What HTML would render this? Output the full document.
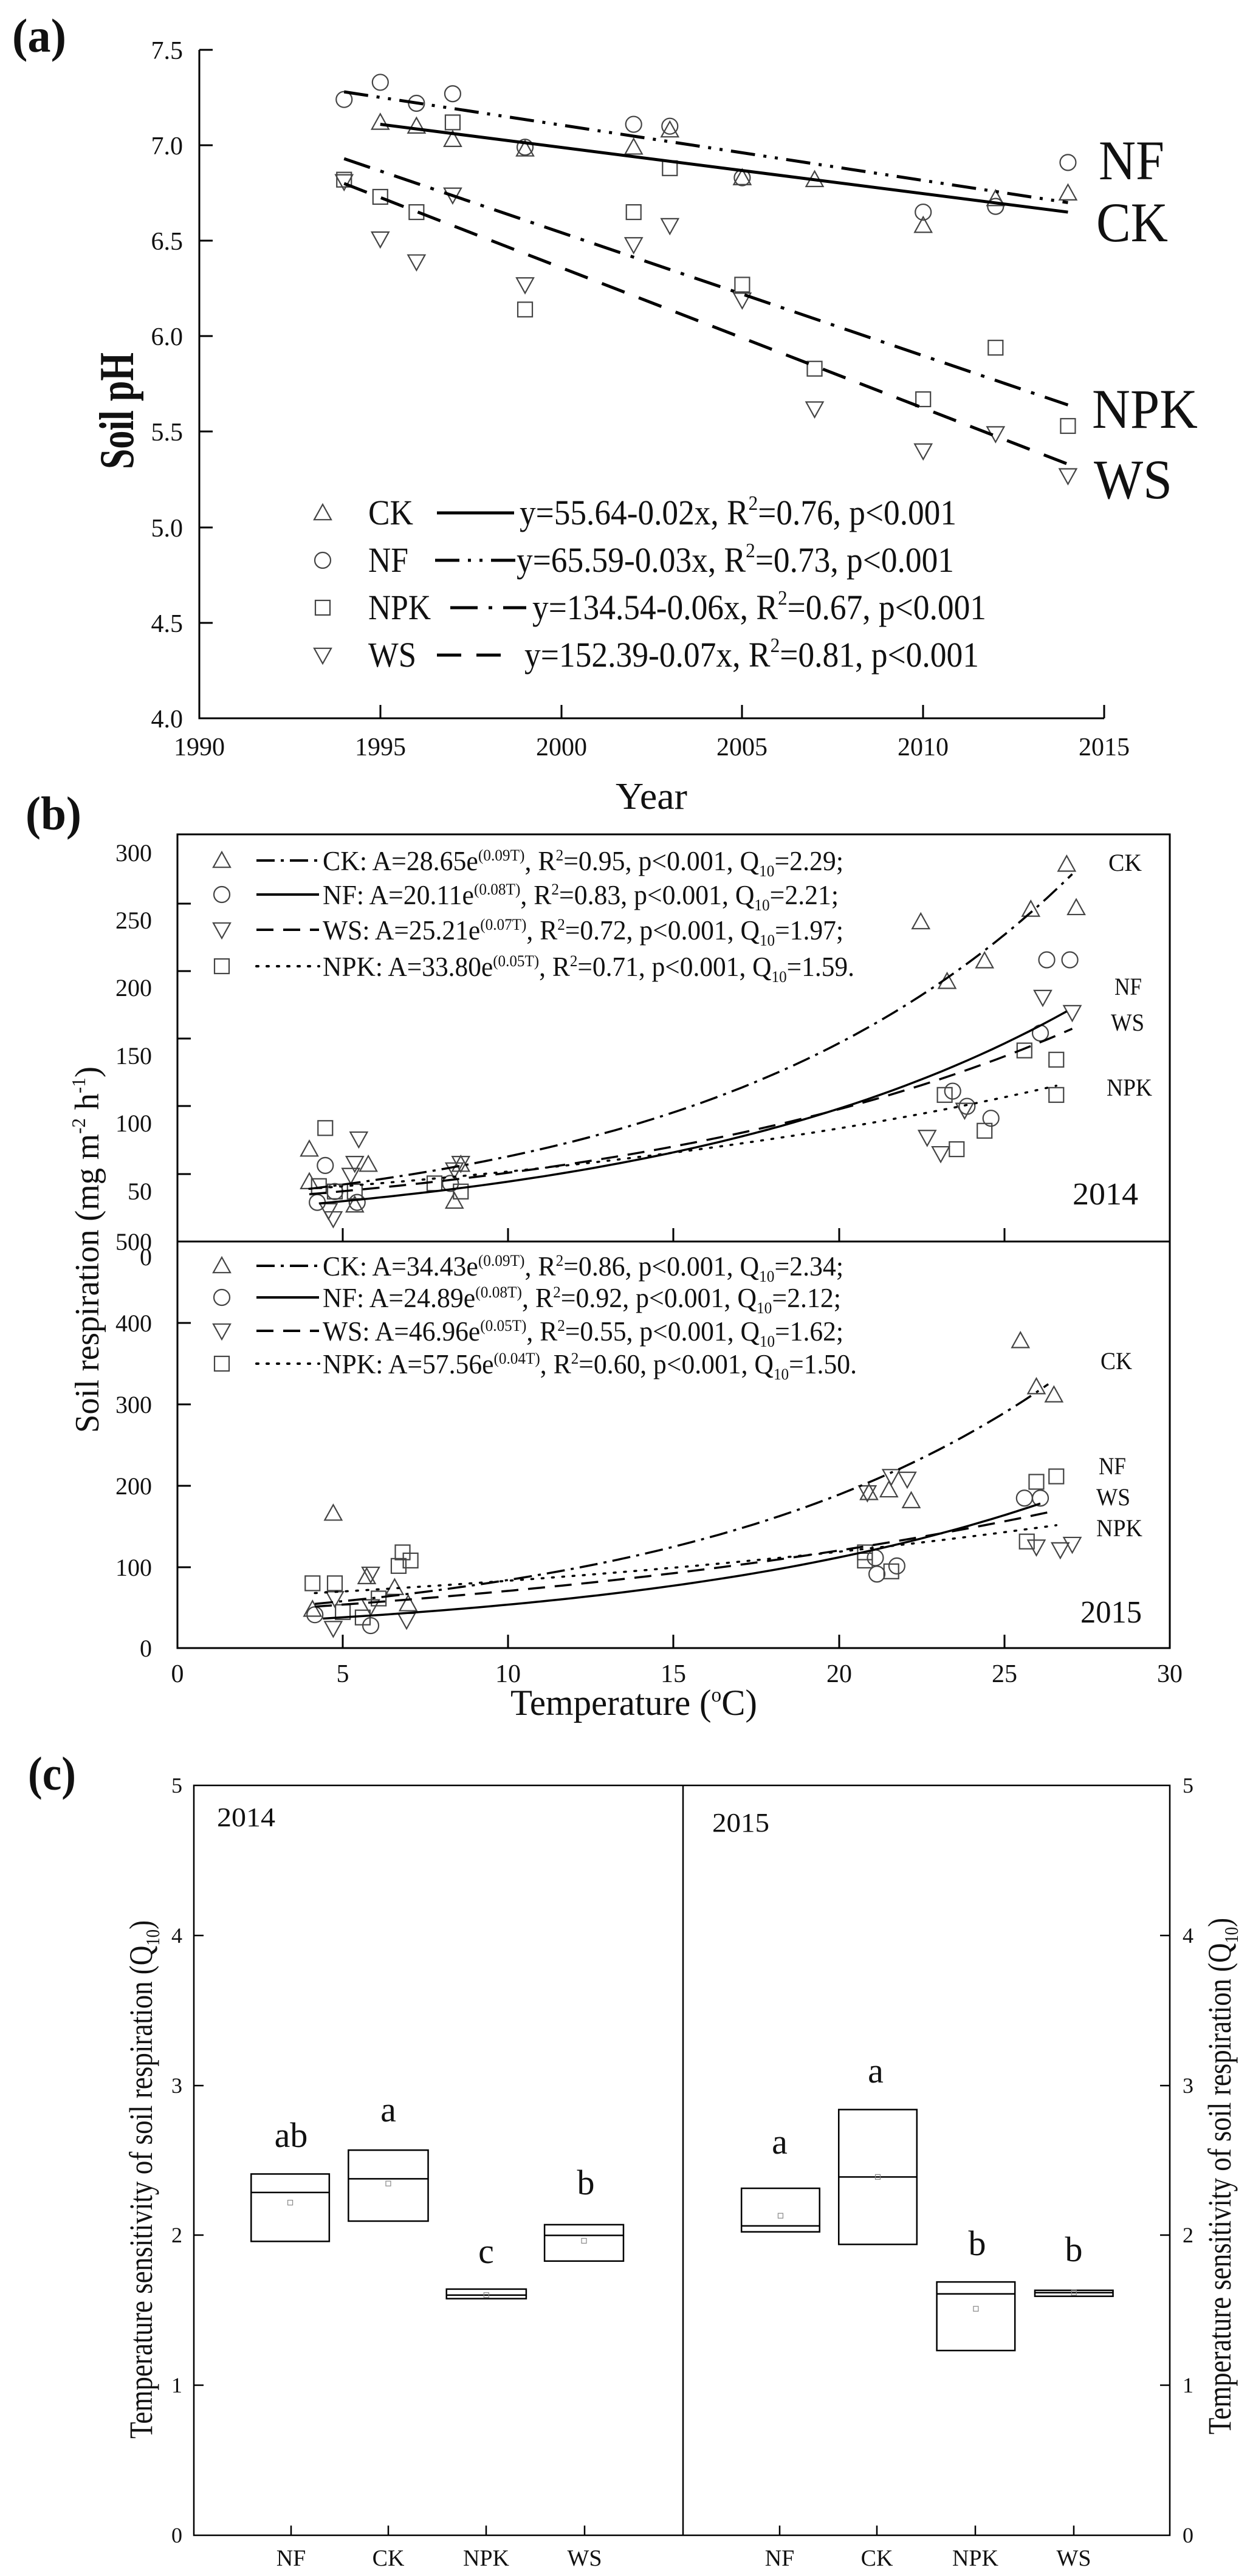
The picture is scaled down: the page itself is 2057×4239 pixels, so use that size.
<!DOCTYPE html>
<html><head><meta charset="utf-8"><style>
html,body{margin:0;padding:0;background:#fff}
svg{display:block}
text{font-family:"Liberation Serif",serif;fill:#111}
.m{fill:none;stroke:#444;stroke-width:2.2}
.ax{stroke:#000;stroke-width:3;fill:none}
</style></head><body>
<svg id="s" xmlns="http://www.w3.org/2000/svg" width="2057" height="4239" viewBox="0 0 2057 4239">
<rect width="2057" height="4239" fill="#fff"/>
<!-- Panel a -->
<text x="20" y="85" font-size="78" font-weight="bold" textLength="89" lengthAdjust="spacingAndGlyphs">(a)</text>
<path class="ax" d="M328,82V1182H1817"/>
<g font-size="42" text-anchor="end">
<text x="301" y="97">7.5</text><text x="301" y="254">7.0</text><text x="301" y="411">6.5</text><text x="301" y="568">6.0</text><text x="301" y="725">5.5</text><text x="301" y="883">5.0</text><text x="301" y="1040">4.5</text><text x="301" y="1197">4.0</text>
</g>
<path class="ax" d="M328,82h22M328,239h22M328,396h22M328,553h22M328,710h22M328,868h22M328,1025h22M626,1182v-22M924,1182v-22M1221,1182v-22M1519,1182v-22M1817,1182v-22"/>
<g font-size="42" text-anchor="middle">
<text x="328" y="1243">1990</text><text x="626" y="1243">1995</text><text x="924" y="1243">2000</text><text x="1221" y="1243">2005</text><text x="1519" y="1243">2010</text><text x="1817" y="1243">2015</text>
</g>
<text x="1013" y="1331" font-size="62" textLength="118" lengthAdjust="spacingAndGlyphs">Year</text>
<text transform="translate(219,772) rotate(-90)" font-size="80" font-weight="bold" textLength="192" lengthAdjust="spacingAndGlyphs">Soil pH</text>
<text x="1808" y="295" font-size="92" textLength="108" lengthAdjust="spacingAndGlyphs">NF</text>
<text x="1804" y="397" font-size="92" textLength="118" lengthAdjust="spacingAndGlyphs">CK</text>
<text x="1797" y="704" font-size="92" textLength="174" lengthAdjust="spacingAndGlyphs">NPK</text>
<text x="1800" y="820" font-size="92" textLength="129" lengthAdjust="spacingAndGlyphs">WS</text>
<g font-size="58">
<text x="606" y="863" textLength="74" lengthAdjust="spacingAndGlyphs">CK</text>
<text x="606" y="941" textLength="66" lengthAdjust="spacingAndGlyphs">NF</text>
<text x="606" y="1019" textLength="103" lengthAdjust="spacingAndGlyphs">NPK</text>
<text x="606" y="1097" textLength="79" lengthAdjust="spacingAndGlyphs">WS</text>
<text x="855" y="863" textLength="719" lengthAdjust="spacingAndGlyphs">y=55.64-0.02x, R<tspan dy="-24" font-size="34">2</tspan><tspan dy="24">=0.76, p&lt;0.001</tspan></text>
<text x="850" y="941" textLength="720" lengthAdjust="spacingAndGlyphs">y=65.59-0.03x, R<tspan dy="-24" font-size="34">2</tspan><tspan dy="24">=0.73, p&lt;0.001</tspan></text>
<text x="876" y="1019" textLength="747" lengthAdjust="spacingAndGlyphs">y=134.54-0.06x, R<tspan dy="-24" font-size="34">2</tspan><tspan dy="24">=0.67, p&lt;0.001</tspan></text>
<text x="863" y="1097" textLength="748" lengthAdjust="spacingAndGlyphs">y=152.39-0.07x, R<tspan dy="-24" font-size="34">2</tspan><tspan dy="24">=0.81, p&lt;0.001</tspan></text>
</g>

<!-- Panel b -->
<text x="42" y="1365" font-size="78" font-weight="bold" textLength="92" lengthAdjust="spacingAndGlyphs">(b)</text>
<rect x="292" y="1373" width="1633" height="1339" class="ax"/>
<path class="ax" d="M292,2043H1925"/>
<path class="ax" d="M292,1487h22M292,1598h22M292,1709h22M292,1820h22M292,1932h22M292,2177h22M292,2311h22M292,2445h22M292,2579h22M564,2043v-22M836,2043v-22M1108,2043v-22M1381,2043v-22M1653,2043v-22M564,2712v-22M836,2712v-22M1108,2712v-22M1381,2712v-22M1653,2712v-22"/>
<g font-size="40" text-anchor="end">
<text x="250" y="1417">300</text><text x="250" y="1528">250</text><text x="250" y="1639">200</text><text x="250" y="1751">150</text><text x="250" y="1862">100</text><text x="250" y="1974">50</text><text x="250" y="2082">0</text>
<text x="250" y="2057">500</text><text x="250" y="2191">400</text><text x="250" y="2325">300</text><text x="250" y="2459">200</text><text x="250" y="2593">100</text><text x="250" y="2726">0</text>
</g>
<g font-size="42" text-anchor="middle">
<text x="292" y="2768">0</text><text x="564" y="2768">5</text><text x="836" y="2768">10</text><text x="1108" y="2768">15</text><text x="1381" y="2768">20</text><text x="1653" y="2768">25</text><text x="1925" y="2768">30</text>
</g>
<text x="840" y="2822" font-size="60" textLength="406" lengthAdjust="spacingAndGlyphs">Temperature (<tspan dy="-22" font-size="34">o</tspan><tspan dy="22">C)</tspan></text>
<text transform="translate(162,2358) rotate(-90)" font-size="56" textLength="603" lengthAdjust="spacingAndGlyphs">Soil respiration (mg m<tspan dy="-22" font-size="32">-2</tspan><tspan dy="22"> h</tspan><tspan dy="-22" font-size="32">-1</tspan><tspan dy="22">)</tspan></text>
<g font-size="45">
<text x="531" y="1432" textLength="857" lengthAdjust="spacingAndGlyphs">CK: A=28.65e<tspan dy="-16" font-size="26">(0.09T)</tspan><tspan dy="16">, R</tspan><tspan dy="-16" font-size="26">2</tspan><tspan dy="16">=0.95, p&lt;0.001, Q</tspan><tspan dy="10" font-size="26">10</tspan><tspan dy="-10">=2.29;</tspan></text>
<text x="531" y="1488" textLength="849" lengthAdjust="spacingAndGlyphs">NF: A=20.11e<tspan dy="-16" font-size="26">(0.08T)</tspan><tspan dy="16">, R</tspan><tspan dy="-16" font-size="26">2</tspan><tspan dy="16">=0.83, p&lt;0.001, Q</tspan><tspan dy="10" font-size="26">10</tspan><tspan dy="-10">=2.21;</tspan></text>
<text x="531" y="1546" textLength="857" lengthAdjust="spacingAndGlyphs">WS: A=25.21e<tspan dy="-16" font-size="26">(0.07T)</tspan><tspan dy="16">, R</tspan><tspan dy="-16" font-size="26">2</tspan><tspan dy="16">=0.72, p&lt;0.001, Q</tspan><tspan dy="10" font-size="26">10</tspan><tspan dy="-10">=1.97;</tspan></text>
<text x="531" y="1606" textLength="875" lengthAdjust="spacingAndGlyphs">NPK: A=33.80e<tspan dy="-16" font-size="26">(0.05T)</tspan><tspan dy="16">, R</tspan><tspan dy="-16" font-size="26">2</tspan><tspan dy="16">=0.71, p&lt;0.001, Q</tspan><tspan dy="10" font-size="26">10</tspan><tspan dy="-10">=1.59.</tspan></text>
<text x="531" y="2099" textLength="857" lengthAdjust="spacingAndGlyphs">CK: A=34.43e<tspan dy="-16" font-size="26">(0.09T)</tspan><tspan dy="16">, R</tspan><tspan dy="-16" font-size="26">2</tspan><tspan dy="16">=0.86, p&lt;0.001, Q</tspan><tspan dy="10" font-size="26">10</tspan><tspan dy="-10">=2.34;</tspan></text>
<text x="531" y="2151" textLength="853" lengthAdjust="spacingAndGlyphs">NF: A=24.89e<tspan dy="-16" font-size="26">(0.08T)</tspan><tspan dy="16">, R</tspan><tspan dy="-16" font-size="26">2</tspan><tspan dy="16">=0.92, p&lt;0.001, Q</tspan><tspan dy="10" font-size="26">10</tspan><tspan dy="-10">=2.12;</tspan></text>
<text x="531" y="2206" textLength="857" lengthAdjust="spacingAndGlyphs">WS: A=46.96e<tspan dy="-16" font-size="26">(0.05T)</tspan><tspan dy="16">, R</tspan><tspan dy="-16" font-size="26">2</tspan><tspan dy="16">=0.55, p&lt;0.001, Q</tspan><tspan dy="10" font-size="26">10</tspan><tspan dy="-10">=1.62;</tspan></text>
<text x="531" y="2260" textLength="879" lengthAdjust="spacingAndGlyphs">NPK: A=57.56e<tspan dy="-16" font-size="26">(0.04T)</tspan><tspan dy="16">, R</tspan><tspan dy="-16" font-size="26">2</tspan><tspan dy="16">=0.60, p&lt;0.001, Q</tspan><tspan dy="10" font-size="26">10</tspan><tspan dy="-10">=1.50.</tspan></text>
</g>
<g font-size="40">
<text x="1824" y="1433" textLength="55" lengthAdjust="spacingAndGlyphs">CK</text>
<text x="1834" y="1637" textLength="45" lengthAdjust="spacingAndGlyphs">NF</text>
<text x="1828" y="1696" textLength="55" lengthAdjust="spacingAndGlyphs">WS</text>
<text x="1821" y="1803" textLength="75" lengthAdjust="spacingAndGlyphs">NPK</text>
<text x="1811" y="2253" textLength="52" lengthAdjust="spacingAndGlyphs">CK</text>
<text x="1808" y="2426" textLength="45" lengthAdjust="spacingAndGlyphs">NF</text>
<text x="1804" y="2477" textLength="56" lengthAdjust="spacingAndGlyphs">WS</text>
<text x="1804" y="2528" textLength="76" lengthAdjust="spacingAndGlyphs">NPK</text>
</g>
<text x="1765" y="1982" font-size="52" textLength="108" lengthAdjust="spacingAndGlyphs">2014</text>
<text x="1778" y="2670" font-size="52" textLength="101" lengthAdjust="spacingAndGlyphs">2015</text>

<!-- Panel c -->
<text x="46" y="2945" font-size="78" font-weight="bold" textLength="79" lengthAdjust="spacingAndGlyphs">(c)</text>
<rect x="319" y="2938" width="1606" height="1234" class="ax" style="stroke-width:2.5"/>
<path class="ax" style="stroke-width:2.5" d="M1124,2938V4172M319,3185h16M319,3432h16M319,3678h16M319,3925h16M1925,3185h-16M1925,3432h-16M1925,3678h-16M1925,3925h-16M479,4172v-16M639,4172v-16M800,4172v-16M962,4172v-16M1283,4172v-16M1443,4172v-16M1605,4172v-16M1767,4172v-16"/>
<g font-size="36" text-anchor="middle">
<text x="291" y="2950">5</text><text x="291" y="3197">4</text><text x="291" y="3444">3</text><text x="291" y="3690">2</text><text x="291" y="3937">1</text><text x="291" y="4184">0</text>
<text x="1955" y="2950">5</text><text x="1955" y="3197">4</text><text x="1955" y="3444">3</text><text x="1955" y="3690">2</text><text x="1955" y="3937">1</text><text x="1955" y="4184">0</text>
</g>
<g font-size="38" text-anchor="middle">
<text x="479" y="4222">NF</text><text x="639" y="4222">CK</text><text x="800" y="4222">NPK</text><text x="962" y="4222">WS</text>
<text x="1283" y="4222">NF</text><text x="1443" y="4222">CK</text><text x="1605" y="4222">NPK</text><text x="1767" y="4222">WS</text>
</g>
<text x="357" y="3005" font-size="44" textLength="96" lengthAdjust="spacingAndGlyphs">2014</text>
<text x="1172" y="3014" font-size="44" textLength="94" lengthAdjust="spacingAndGlyphs">2015</text>
<g font-size="58" text-anchor="middle">
<text x="479" y="3533">ab</text><text x="639" y="3491">a</text><text x="800" y="3724">c</text><text x="964" y="3611">b</text>
<text x="1283" y="3544">a</text><text x="1441" y="3427">a</text><text x="1608" y="3711">b</text><text x="1767" y="3721">b</text>
</g>
<text transform="translate(250,4013) rotate(-90)" font-size="54" textLength="853" lengthAdjust="spacingAndGlyphs">Temperature sensitivity of soil respiration (Q<tspan dy="12" font-size="32">10</tspan><tspan dy="-12">)</tspan></text>
<text transform="translate(2025,4006) rotate(-90)" font-size="54" textLength="850" lengthAdjust="spacingAndGlyphs">Temperature sensitivity of soil respiration (Q<tspan dy="12" font-size="32">10</tspan><tspan dy="-12">)</tspan></text>
<g id="dyn"></g>
</svg>
<script>
(function(){
var NS='http://www.w3.org/2000/svg',g=document.getElementById('dyn');
function el(t,a){var e=document.createElementNS(NS,t);for(var k in a)e.setAttribute(k,a[k]);g.appendChild(e);return e;}
function mk(t,x,y,r){r=r||14;
 if(t=='c')el('circle',{cx:x,cy:y,r:r-1,'class':'m'});
 else if(t=='s')el('rect',{x:x-r+2,y:y-r+2,width:2*r-4,height:2*r-4,'class':'m'});
 else if(t=='t')el('polygon',{points:(x-r)+','+(y+r*0.8)+' '+(x+r)+','+(y+r*0.8)+' '+x+','+(y-r),'class':'m'});
 else el('polygon',{points:(x-r)+','+(y-r*0.8)+' '+(x+r)+','+(y-r*0.8)+' '+x+','+(y+r),'class':'m'});}
function line(x1,y1,x2,y2,w,da){var a={x1:x1,y1:y1,x2:x2,y2:y2,stroke:'#000','stroke-width':w};if(da)a['stroke-dasharray']=da;el('line',a);}
var ax=function(y){return 328+(y-1990)*59.56},ay=function(v){return 82+(7.5-v)*314.2};
var A={t:[[1995,7.12],[1996,7.10],[1997,7.03],[1999,6.98],[2002,6.99],[2003,7.08],[2005,6.83],[2007,6.82],[2010,6.58],[2012,6.72],[2014,6.75]],
c:[[1994,7.24],[1995,7.33],[1996,7.22],[1997,7.27],[1999,6.99],[2002,7.11],[2003,7.10],[2005,6.83],[2010,6.65],[2012,6.68],[2014,6.91]],
s:[[1994,6.82],[1995,6.73],[1996,6.65],[1997,7.12],[1999,6.14],[2002,6.65],[2003,6.88],[2005,6.27],[2007,5.83],[2010,5.67],[2012,5.94],[2014,5.53]],
d:[[1994,6.81],[1995,6.51],[1996,6.39],[1997,6.74],[1999,6.27],[2002,6.48],[2003,6.58],[2005,6.19],[2007,5.62],[2010,5.40],[2012,5.49],[2014,5.27]]};
for(var k in A)A[k].forEach(function(p){mk(k,ax(p[0]),ay(p[1]),14)});
line(ax(1995),ay(7.11),ax(2014),ay(6.65),5);
line(ax(1994),ay(7.28),ax(2014),ay(6.70),5,'40 14 5 14 5 14');
line(ax(1994),ay(6.93),ax(2014),ay(5.64),5,'45 18 6 18');
line(ax(1994),ay(6.80),ax(2014),ay(5.33),5,'40 25');
mk('t',531,844,14);mk('c',531,922,14);mk('s',531,1000,14);mk('d',531,1078,14);
line(719,844,846,844,5);line(716,922,852,922,5,'40 14 5 14 5 14');line(741,1000,866,1000,5,'45 18 6 18');line(719,1078,840,1078,5,'40 25');
var X=function(i){return i*1.3119},Y=function(i){return 1300+i*0.8929};
function curve(x1,y1,x2,y2,k,w,da){var T=function(xi){return (xi*1.3119-292)/54.43};
 var e1=Math.exp(k*T(x1)),e2=Math.exp(k*T(x2));var S=(y1-y2)/(e2-e1),b=y1+S*e1;var d='';
 for(var i=0;i<=60;i++){var xi=x1+(x2-x1)*i/60;var yi=b-S*Math.exp(k*T(xi));d+=(i?'L':'M')+X(xi).toFixed(1)+','+Y(yi).toFixed(1);}
 var a={d:d,fill:'none',stroke:'#000','stroke-width':w};if(da){a['stroke-dasharray']=da;}if(da=='3 14'){a['stroke-linecap']='round';}el('path',a);}
var B={t:[[388,662],[388,722],[462,690],[445,765],[570,758],[578,690],[1155,243],[1188,353],[1235,315],[1293,220],[1338,137],[1350,217],
 [418,1333],[392,1510],[460,1450],[495,1470],[512,1500],[1280,1015],[1300,1100],[1322,1115],[1090,1295],[1143,1310],[1115,1290]],
c:[[408,692],[398,760],[448,760],[420,740],[565,725],[1313,313],[1342,313],[1305,448],[1195,555],[1213,583],[1243,605],
 [395,1520],[465,1540],[1285,1305],[1305,1305],[1100,1445],[1125,1430],[1098,1415]],
d:[[450,643],[445,688],[440,710],[418,790],[412,775],[578,688],[570,700],[1308,382],[1345,410],[1163,640],[1180,670],[1210,590],
 [418,1545],[465,1445],[465,1505],[510,1530],[420,1490],[1088,1295],[1118,1265],[1138,1270],[1300,1395],[1330,1400],[1345,1390]],
s:[[408,623],[400,730],[420,740],[445,740],[545,725],[578,740],[1285,480],[1325,497],[1325,562],[1185,562],[1235,628],[1200,662],
 [392,1462],[420,1462],[475,1490],[500,1430],[505,1405],[515,1420],[430,1515],[455,1525],[1085,1405],[1085,1420],[1300,1275],[1325,1265],[1288,1385],[1118,1440]]};
for(var k2 in B)B[k2].forEach(function(p){mk(k2,X(p[0]),Y(p[1]),14)});
curve(388,735,1345,155,0.09,3.5,'30 10 5 10');
curve(400,762,1338,408,0.08,3.5);
curve(388,745,1345,440,0.07,3.5,'28 16');
curve(388,735,1325,545,0.05,3.5,'3 14');
curve(395,1500,1315,1095,0.09,3.5,'30 10 5 10');
curve(405,1527,1305,1315,0.08,3.5);
curve(395,1505,1325,1328,0.05,3.5,'28 16');
curve(395,1480,1325,1355,0.04,3.5,'3 14');
[[1416,2083],[1472,2135],[1530,2190],[1590,2244]].forEach(function(r,i){
 var types=['t','c','d','s'],da=['30 10 5 10',null,'28 16','3 14'];
 r.forEach(function(y){mk(types[i],365,y,14);var a={x1:422,y1:y,x2:525,y2:y,stroke:'#000','stroke-width':4};if(da[i])a['stroke-dasharray']=da[i];if(i==3)a['stroke-linecap']='round';el('line',a);});});
var X3=function(i){return i*1.312},Y3=function(i){return 2700+i*0.9815};
[[315,413,894,925,1007,942],[437,537,854,902,973,910],[560,660,1087,1097,1103,1097],[683,782,979,997,1040,1006],
 [930,1028,918,981,991,964],[1052,1150,786,899,1012,899],[1175,1273,1075,1095,1190,1120],[1298,1396,1089,1093,1099,1093]].forEach(function(b){
 el('rect',{x:X3(b[0]),y:Y3(b[2]),width:X3(b[1])-X3(b[0]),height:Y3(b[4])-Y3(b[2]),fill:'none',stroke:'#000','stroke-width':2.5});
 el('line',{x1:X3(b[0]),x2:X3(b[1]),y1:Y3(b[3]),y2:Y3(b[3]),stroke:'#000','stroke-width':2.5});
 var cx=X3((b[0]+b[1])/2);el('rect',{x:cx-4,y:Y3(b[5])-4,width:8,height:8,fill:'none',stroke:'#888','stroke-width':1.2});});
})();
</script>
</body></html>
